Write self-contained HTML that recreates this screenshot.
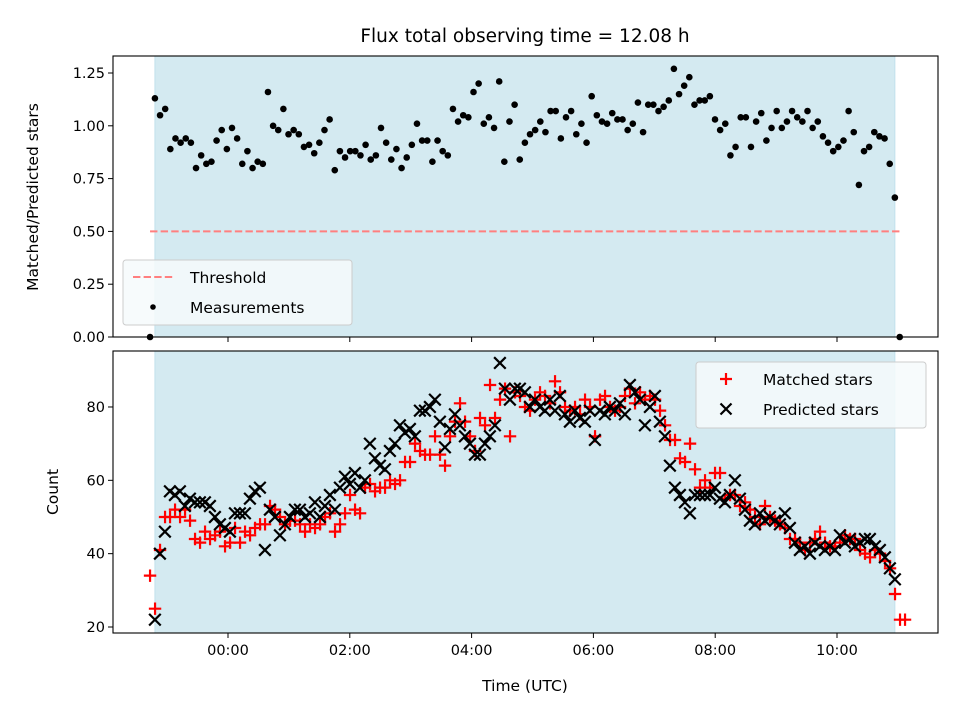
<!DOCTYPE html>
<html><head><meta charset="utf-8"><style>
html,body{margin:0;padding:0;background:#fff}
svg{display:block;font-family:"DejaVu Sans","Liberation Sans",sans-serif}
</style></head><body>
<svg id="chart" width="960" height="720" viewBox="0 0 960 720"></svg>
<script>
// ---- data ----
const ratioStart = -1.20, ratioEnd = 10.95;
const ratioValues = [1.13,1.05,1.08,0.89,0.94,0.92,0.94,0.92,0.80,0.86,0.82,0.83,0.93,0.98,0.89,0.99,0.94,0.82,0.88,0.80,0.83,0.82,1.16,1.00,0.98,1.08,0.96,0.98,0.96,0.90,0.91,0.87,0.92,0.98,1.03,0.79,0.88,0.85,0.88,0.88,0.86,0.91,0.84,0.86,0.99,0.92,0.84,0.89,0.80,0.85,0.91,1.01,0.93,0.93,0.83,0.93,0.88,0.86,1.08,1.02,1.05,1.04,1.16,1.20,1.01,1.04,0.99,1.21,0.83,1.02,1.10,0.84,0.92,0.96,0.98,
1.02,0.97,1.07,1.07,0.94,1.04,1.07,0.96,1.01,0.92,1.14,1.05,1.02,1.01,1.06,1.03,1.03,0.98,1.01,1.11,0.97,1.10,1.10,1.07,1.09,1.12,1.27,1.15,1.19,1.23,1.10,1.12,1.12,1.14,1.03,0.98,1.01,0.86,0.90,1.04,1.04,0.90,1.02,1.06,0.93,0.99,1.07,0.99,1.02,1.07,1.04,1.02,1.07,0.99,1.02,0.95,0.92,0.88,0.90,0.93,1.07,0.97,0.72,0.88,0.90,0.97,0.95,0.94,0.82,0.66];
const edgeTimes = [-1.28, 11.03];
const edgeValues = [0, 0];
const threshold = 0.5;
const spanStart = -1.20, spanEnd = 10.95;

const matchedStart = -1.28, countStep = 0.0821;
const matchedValues = [34,25,41,50,50,52,50,52,49,44,43,46,44,45,46,42,43,47,43,46,45,47,48,48,53,52,50,48,49,49,48,46,48,47,48,50,51,46,48,51,56,52,51,58,59,57,58,58,60,59,60,65,65,70,68,67,67,72,67,64,72,76,81,76,72,68,77,75,86,77,82,85,72,84,83,80,79,82,84,83,81,87,84,80,79,80,78,82,80,72,82,83,80,79,80,83,85,81,84,82,83,82,79,75,71,71,66,65,70,63,58,60,58,62,62,55,56,56,53,54,52,50,48,53,50,49,48,47,44,44,43,41,43,44,46,43,42,42,43,45,44,44,41,40,39,41,40,38,36,29,22,22];
const predictedStart = -1.20;
const predictedValues = [22,40,46,57,56,57,53,55,54,54,54,53,50,48,47,46,51,51,51,55,57,58,41,52,50,45,48,50,52,52,50,51,54,50,53,56,52,58,61,59,62,58,60,70,66,64,63,68,70,75,73,74,72,79,79,80,82,76,69,74,78,75,72,70,67,67,70,72,75,92,85,82,85,85,84,80,82,80,79,82,79,83,78,76,79,77,76,79,71,79,78,80,79,81,78,86,84,82,75,80,83,76,72,64,58,56,54,51,56,56,56,56,58,55,54,56,60,55,52,49,48,51,49,50,49,48,51,47,43,41,42,40,43,42,41,42,41,45,43,44,42,43,44,44,42,41,39,36,33];
const xTickValues = [0,2,4,6,8,10];
const xTickLabels = ["00:00","02:00","04:00","06:00","08:00","10:00"];
const ratioTicks = [0,0.25,0.5,0.75,1.0,1.25];
const ratioTickLabels = ["0.00","0.25","0.50","0.75","1.00","1.25"];
const countTicks = [20,40,60,80];
const countTickLabels = ["20","40","60","80"];

// ---- layout ----
const L=113,R=938, T1=56,B1=337, T2=351,B2=633;
const xs = t => 228 + t*60.9;
const y1 = v => 337 - v*211.2;
const y2 = c => 627 - (c-20)*3.667;
const svg = document.getElementById('chart');
const NS='http://www.w3.org/2000/svg';
function mk(tag, attrs, parent, text){
  const e=document.createElementNS(NS,tag);
  for(const k in attrs) e.setAttribute(k,attrs[k]);
  if(text!==undefined) e.textContent=text;
  (parent||svg).appendChild(e); return e;
}
function clip(id,top,bot){
  const c=mk('clipPath',{id:id}); mk('rect',{x:L,y:top,width:R-L,height:bot-top},c);
}
clip('c1',T1,B1); clip('c2',T2,B2);

const title=mk('text',{x:525,y:42,'text-anchor':'middle','font-size':'18.5'},svg,'Flux total observing time = 12.08 h');



function panel(top,bot,clipId,name){
  const g=mk('g',{});
  
  
  const sp=mk('rect',{x:xs(spanStart),y:top,width:xs(spanEnd)-xs(spanStart),height:bot-top,fill:'#d4eaf1',stroke:'#c2e1ec','stroke-width':1},g);
  
  
  return g;
}
const p1=panel(T1,B1,'c1','ratio-panel');
const p2=panel(T2,B2,'c2','count-panel');

const th=mk('line',{x1:xs(-1.28),x2:xs(11.03),y1:y1(threshold),y2:y1(threshold),stroke:'#ff7f7f','stroke-width':2,'stroke-dasharray':'7.4,3.2'},p1);



const gDots=mk('g',{'clip-path':'url(#c1)'},p1);


const rStep=(ratioEnd-ratioStart)/(ratioValues.length-1);
ratioValues.forEach((v,i)=>{
  const c=mk('circle',{cx:xs(ratioStart+i*rStep),cy:y1(v),r:3.3,fill:'#000'},gDots);
  
  
});
edgeValues.forEach((v,i)=>{
  const c=mk('circle',{cx:xs(edgeTimes[i]),cy:y1(v),r:3.3,fill:'#000'},svg);
  
  
});

const gM=mk('g',{stroke:'#ff0000','stroke-width':2.2},p2);


matchedValues.forEach((v,i)=>{
  const x=xs(matchedStart+i*countStep), y=y2(v), s=6.2;
  const p=mk('path',{d:`M${x-s},${y}H${x+s}M${x},${y-s}V${y+s}`},gM);
  
  
});
const gP=mk('g',{stroke:'#000','stroke-width':2.2},p2);


predictedValues.forEach((v,i)=>{
  const x=xs(predictedStart+i*countStep), y=y2(v), s=5.8;
  const p=mk('path',{d:`M${x-s},${y-s}L${x+s},${y+s}M${x-s},${y+s}L${x+s},${y-s}`},gP);
  
  
});

function frame(top,bot,name){
  const f=mk('rect',{x:L,y:top,width:R-L,height:bot-top,fill:'none',stroke:'#000','stroke-width':1.1});
  
  
}
frame(T1,B1,'ratio-axes-frame'); frame(T2,B2,'count-axes-frame');
xTickValues.forEach((t,i)=>{
  mk('line',{x1:xs(t),x2:xs(t),y1:B1,y2:B1+5,stroke:'#000'});
  mk('line',{x1:xs(t),x2:xs(t),y1:B2,y2:B2+5,stroke:'#000'});
  const tx=mk('text',{x:xs(t),y:B2+22,'text-anchor':'middle','font-size':'14.5'},svg,xTickLabels[i]);
  
  
});
ratioTicks.forEach((v,i)=>{
  mk('line',{x1:L-5,x2:L,y1:y1(v),y2:y1(v),stroke:'#000'});
  const tx=mk('text',{x:L-8,y:y1(v)+5,'text-anchor':'end','font-size':'14.5'},svg,ratioTickLabels[i]);
  
  
});
countTicks.forEach((v,i)=>{
  mk('line',{x1:L-5,x2:L,y1:y2(v),y2:y2(v),stroke:'#000'});
  const tx=mk('text',{x:L-8,y:y2(v)+5,'text-anchor':'end','font-size':'14.5'},svg,countTickLabels[i]);
  
  
});
</script>
<svg width="960" height="720" style="position:absolute;left:0;top:0;font-family:'DejaVu Sans','Liberation Sans',sans-serif">
  <text x="38" y="197" transform="rotate(-90 38 197)" text-anchor="middle" font-size="15.5">Matched/Predicted stars</text>
  <text x="58" y="492" transform="rotate(-90 58 492)" text-anchor="middle" font-size="15.5">Count</text>
  <text x="525" y="691" text-anchor="middle" font-size="15.5">Time (UTC)</text>
  <g>
    <rect x="123" y="260" width="229" height="65" rx="3" fill="#f6fafc" fill-opacity="0.85" stroke="#cccccc"/>
    <line x1="133" x2="173" y1="277" y2="277" stroke="#ff7f7f" stroke-width="2" stroke-dasharray="7.4,3.2"/>
    <text x="190" y="283" font-size="15.5">Threshold</text>
    <circle cx="153" cy="307" r="2.8" fill="#000"/>
    <text x="190" y="313" font-size="15.5">Measurements</text>
  </g>
  <g>
    <rect x="696" y="362" width="230" height="66" rx="3" fill="#f6fafc" fill-opacity="0.85" stroke="#cccccc"/>
    <path d="M720,379H732M726,373V385" stroke="#ff0000" stroke-width="2.2"/>
    <text x="763" y="385" font-size="15.5">Matched stars</text>
    <path d="M720.5,403.5L731.5,414.5M720.5,414.5L731.5,403.5" stroke="#000" stroke-width="2.2"/>
    <text x="763" y="415" font-size="15.5">Predicted stars</text>
  </g>
</svg>
</body></html>
